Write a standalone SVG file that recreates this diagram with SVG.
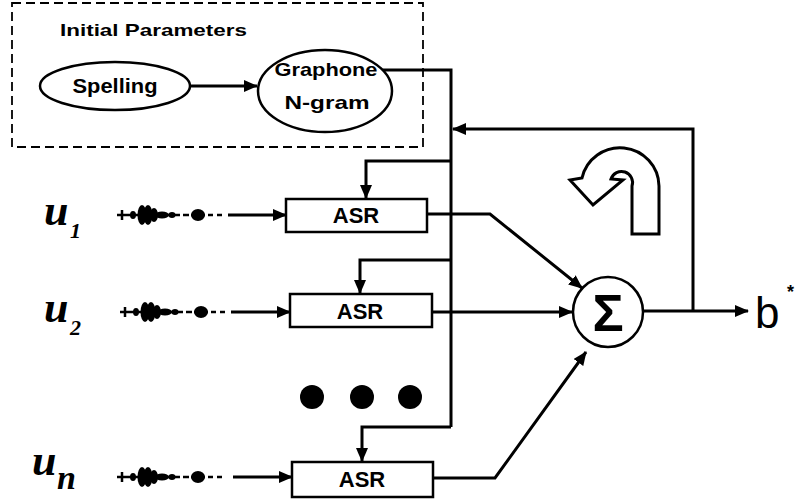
<svg xmlns="http://www.w3.org/2000/svg" width="801" height="504" viewBox="0 0 801 504">
<style>
.ln{fill:none;stroke:#000;stroke-width:3}
.box{fill:#fff;stroke:#000;stroke-width:2.5}
.lbl{font-family:"Liberation Sans",Arial,sans-serif;font-weight:bold;fill:#000}
.u{font-family:"Liberation Serif","DejaVu Serif",serif;font-style:italic;font-weight:bold;fill:#000}
.w{stroke:#000;stroke-width:2.5}
</style>
<defs>
<marker id="ah" viewBox="0 0 14 12" refX="13" refY="6" markerWidth="14" markerHeight="12" markerUnits="userSpaceOnUse" orient="auto">
<path d="M0,0 L14,6 L0,12 z" fill="#000"/>
</marker>
<g id="wave">
<line class="w" x1="0" y1="0" x2="63" y2="0"/>
<line class="w" x1="5" y1="-5" x2="5" y2="5"/>
<ellipse cx="16" cy="0" rx="3" ry="4"/>
<ellipse cx="25" cy="0" rx="4.5" ry="10"/>
<ellipse cx="31" cy="0" rx="4.5" ry="10"/>
<ellipse cx="37" cy="0" rx="4" ry="7"/>
<ellipse cx="45" cy="0" rx="7" ry="3.5"/>
<ellipse cx="55" cy="0" rx="3.5" ry="3"/>
<line class="w" x1="66" y1="0" x2="72" y2="0"/>
<ellipse cx="81" cy="0" rx="7" ry="6"/>
<line class="w" x1="74" y1="0" x2="88" y2="0"/>
<line class="w" x1="91" y1="0" x2="96" y2="0"/>
<line class="w" x1="100" y1="0" x2="105" y2="0"/>
</g>
</defs>
<rect width="801" height="504" fill="#fff"/>

<g id="initial-parameters">
<rect x="12" y="3" width="411" height="144" fill="none" stroke="#000" stroke-width="1.8" stroke-dasharray="9 5"/>
<text class="lbl" x="60" y="36" font-size="17" textLength="187" lengthAdjust="spacingAndGlyphs">Initial Parameters</text>
</g>
<g id="spelling">
<ellipse cx="115" cy="86" rx="75" ry="24" class="box"/>
<text class="lbl" x="115" y="93" font-size="20" text-anchor="middle" textLength="85" lengthAdjust="spacingAndGlyphs">Spelling</text>
</g>
<g id="graphone">
<ellipse cx="325" cy="91" rx="67" ry="41" class="box"/>
<text class="lbl" x="326" y="76" font-size="19" text-anchor="middle" textLength="103" lengthAdjust="spacingAndGlyphs">Graphone</text>
<text class="lbl" x="327" y="109" font-size="19" text-anchor="middle" textLength="85" lengthAdjust="spacingAndGlyphs">N-gram</text>
</g>

<g id="connectors">
<path class="ln" d="M190 86 H257" marker-end="url(#ah)"/>
<path class="ln" d="M383 70 H451 V427"/>
<path class="ln" d="M451 161 H366 V198" marker-end="url(#ah)"/>
<path class="ln" d="M451 260 H360 V293" marker-end="url(#ah)"/>
<path class="ln" d="M451 427 H362 V461" marker-end="url(#ah)"/>
<path class="ln" d="M693 311 V129 H453" marker-end="url(#ah)"/>
<path class="ln" d="M427 214 H490 L582 288" marker-end="url(#ah)"/>
<path class="ln" d="M432 312 H572" marker-end="url(#ah)"/>
<path class="ln" d="M433 478 H495 L586 352" marker-end="url(#ah)"/>
<path class="ln" d="M643 311 H748" marker-end="url(#ah)"/>
<path class="ln" d="M228 215 H286" marker-end="url(#ah)"/>
<path class="ln" d="M231 312 H290" marker-end="url(#ah)"/>
<path class="ln" d="M233 477 H292" marker-end="url(#ah)"/>
</g>

<g id="u1">
<text class="u" x="44" y="225" font-size="44">u</text>
<text class="u" x="70" y="238" font-size="22">1</text>
<use href="#wave" x="117" y="215"/>
</g>
<g id="u2">
<text class="u" x="44" y="322" font-size="44">u</text>
<text class="u" x="70" y="335" font-size="22">2</text>
<use href="#wave" x="120" y="312"/>
</g>
<g id="un">
<text class="u" x="32" y="475" font-size="44">u</text>
<text class="u" x="57" y="489" font-size="34">n</text>
<use href="#wave" x="117" y="477"/>
</g>

<g id="asr1">
<rect x="286" y="199" width="141" height="33" class="box"/>
<text class="lbl" x="356" y="223" font-size="22" text-anchor="middle">ASR</text>
</g>
<g id="asr2">
<rect x="290" y="294" width="142" height="33" class="box"/>
<text class="lbl" x="360" y="319" font-size="22" text-anchor="middle">ASR</text>
</g>
<g id="asr3">
<rect x="292" y="462" width="141" height="35" class="box"/>
<text class="lbl" x="362" y="487" font-size="22" text-anchor="middle">ASR</text>
</g>

<g id="dots">
<circle cx="312" cy="397" r="12"/>
<circle cx="362" cy="397" r="12"/>
<circle cx="410" cy="397" r="12"/>
</g>

<g id="sum">
<circle cx="608" cy="312" r="35" fill="#fff" stroke="#000" stroke-width="2.5"/>
<text class="lbl" x="608" y="331" font-size="52" text-anchor="middle">Σ</text>
</g>

<g id="loop-icon">
<path d="M632 234 L632 186 A11 11 0 0 0 611 179 L623 180 L593 205 L570 180 L582 178 A39 39 0 0 1 659 186 L659 234 Z" fill="#fff" stroke="#000" stroke-width="3" stroke-linejoin="miter"/>
</g>

<g id="output">
<text x="755" y="328" font-family="Liberation Sans,Arial,sans-serif" font-size="44" fill="#000">b</text>
<text x="787" y="298" font-family="Liberation Sans,Arial,sans-serif" font-size="18" font-weight="bold" fill="#000">*</text>
</g>
</svg>
